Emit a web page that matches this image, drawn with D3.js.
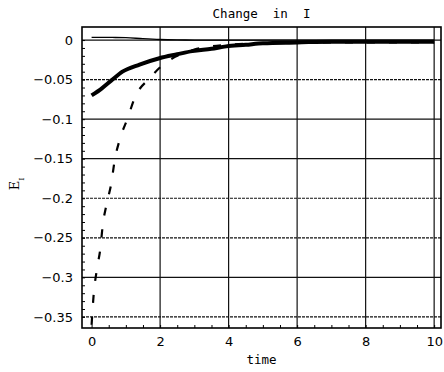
<!DOCTYPE html>
<html>
<head>
<meta charset="utf-8">
<script src="https://cdn.jsdelivr.net/npm/d3@7"></script>
<style>
  body { margin: 0; background: #fff; }
  .tick text { font-family: "DejaVu Sans", sans-serif; font-size: 13px; fill: #000; }
</style>
</head>
<body>
<svg width="444" height="372"></svg>
<script>
// values
var xTicks = [0, 2, 4, 6, 8, 10];
var yTicks = [0, -0.05, -0.1, -0.15, -0.2, -0.25, -0.3, -0.35];

var thickX = [0, 0.3, 0.58, 0.9, 1.4, 1.98, 2.5, 2.94, 3.5, 3.93, 4.5, 5, 6, 7, 8, 9, 10];
var thickY = [-0.07, -0.061, -0.051, -0.040, -0.031, -0.023, -0.018, -0.014, -0.011, -0.008, -0.006, -0.004, -0.003, -0.002, -0.002, -0.002, -0.002];

var thinX = [0, 0.6, 1, 1.5, 2, 2.5, 3, 4, 6, 8, 10];
var thinY = [0.0035, 0.0033, 0.003, 0.0017, 0.0007, 0.0002, 0, 0, 0, 0, 0];

var dashX = [0, 0.06, 0.15, 0.26, 0.32, 0.44, 0.58, 0.67, 0.82, 1.05, 1.26, 1.7, 2.15, 2.6, 3, 4, 5, 6, 7, 8, 9, 10];
var dashY = [-0.36, -0.322, -0.291, -0.262, -0.236, -0.207, -0.18, -0.153, -0.126, -0.099, -0.073, -0.048, -0.029, -0.018, -0.012, -0.006, -0.004, -0.003, -0.003, -0.003, -0.003, -0.003];

var svg = d3.select("svg"),
    margin = {top: 27, right: 3, bottom: 44, left: 82},
    width = +svg.attr("width") - margin.left - margin.right,
    height = +svg.attr("height") - margin.top - margin.bottom;

var x = d3.scaleLinear().domain([-0.28, 10.2]).range([0, width]),
    y = d3.scaleLinear().domain([0.0165, -0.364]).range([0, height]);

var g = svg.append("g")
    .attr("transform", "translate(" + margin.left + "," + margin.top + ")");

// grid lines, some of them look dotted in the scan
g.selectAll(".hgrid")
  .data(yTicks)
  .enter().append("line")
    .attr("x1", 0).attr("x2", width)
    .attr("y1", function(d) { return y(d); })
    .attr("y2", function(d) { return y(d); })
    .attr("stroke", "#111")
    .attr("stroke-width", 1.2)
    .attr("stroke-dasharray", function(d, i) { return [1, 4, 5, 7].indexOf(i) >= 0 ? "3,1" : null; });

g.selectAll(".vgrid")
  .data(xTicks.filter(function(d) { return d > 0; }))
  .enter().append("line")
    .attr("y1", 0).attr("y2", height)
    .attr("x1", function(d) { return x(d); })
    .attr("x2", function(d) { return x(d); })
    .attr("stroke", "#111")
    .attr("stroke-width", 1.2);

// frame
g.append("rect")
  .attr("width", width).attr("height", height)
  .attr("fill", "none").attr("stroke", "#000").attr("stroke-width", 1.6);

// axes with minor ticks pointing inwards
g.append("g")
    .attr("transform", "translate(0," + height + ")")
    .call(d3.axisBottom(x).tickValues(d3.range(0, 10.01, 0.5)).tickSize(-3).tickFormat(""))
    .call(function(a) { a.select(".domain").remove(); });

g.append("g")
    .attr("transform", "translate(0," + height + ")")
    .call(d3.axisBottom(x).tickValues(xTicks).tickSize(0).tickPadding(9).tickFormat(d3.format("d")))
    .call(function(a) { a.select(".domain").remove(); });

g.append("g")
    .call(d3.axisLeft(y).tickValues(d3.range(0, -0.36, -0.01)).tickSize(-3).tickFormat(""))
    .call(function(a) { a.select(".domain").remove(); });

g.append("g")
    .call(d3.axisLeft(y).tickValues(yTicks).tickSize(0).tickPadding(9)
      .tickFormat(function(d) { return d === 0 ? "0" : "\u2212" + String(-d); }))
    .call(function(a) { a.select(".domain").remove(); });

function series(xs, ys) {
  return xs.map(function(v, i) { return [v, ys[i]]; });
}

var line = d3.line()
    .x(function(d) { return x(d[0]); })
    .y(function(d) { return y(d[1]); })
    .curve(d3.curveMonotoneX);

g.append("path")
    .datum(series(thinX, thinY))
    .attr("fill", "none").attr("stroke", "#000").attr("stroke-width", 1.3)
    .attr("d", line);

g.append("path")
    .datum(series(thickX, thickY))
    .attr("fill", "none").attr("stroke", "#000").attr("stroke-width", 4)
    .attr("d", line);

g.append("path")
    .datum(series(dashX, dashY))
    .attr("fill", "none").attr("stroke", "#000").attr("stroke-width", 2.2)
    .attr("stroke-dasharray", "8,14")
    .attr("d", line);

// title and labels
svg.append("text")
    .attr("x", margin.left + width / 2).attr("y", 18)
    .attr("text-anchor", "middle")
    .attr("font-family", "DejaVu Sans Mono, monospace").attr("font-size", 12.5)
    .attr("xml:space", "preserve")
    .text("Change  in  I");

svg.append("text")
    .attr("x", margin.left + width / 2).attr("y", 364)
    .attr("text-anchor", "middle")
    .attr("font-family", "DejaVu Sans Mono, monospace").attr("font-size", 12.5)
    .text("time");

var yl = svg.append("text")
    .attr("transform", "translate(19,184) rotate(-90)")
    .attr("text-anchor", "middle")
    .attr("font-family", "DejaVu Serif, serif").attr("font-size", 13);
yl.append("tspan").text("E");
yl.append("tspan").attr("baseline-shift", "sub").attr("font-size", 8).text("I");
</script>
</body>
</html>
